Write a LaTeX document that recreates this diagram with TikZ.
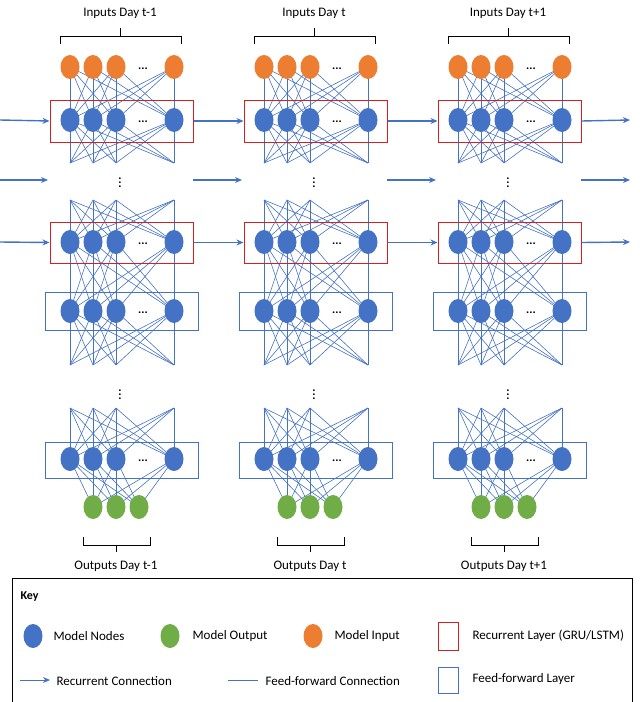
\documentclass[tikz,border=0pt]{standalone}
\usepackage{fontspec}
\setmainfont{Carlito}
\usepackage{tikz}
\usetikzlibrary{arrows.meta,backgrounds,shapes.geometric}

\definecolor{nodeblue}{HTML}{4472C4}
\definecolor{outgreen}{HTML}{70AD47}
\definecolor{inorange}{HTML}{ED7D31}
\definecolor{recred}{HTML}{D42020}

\tikzset{
  unit/.style={ellipse, fill=nodeblue, minimum width=19pt, minimum height=24pt, inner sep=0pt},
  innode/.style={unit, fill=inorange},
  outnode/.style={unit, fill=outgreen},
  ff/.style={nodeblue, line width=0.6pt},
  rec/.style={nodeblue, line width=1.4pt, -{Stealth[length=7pt, width=6pt]}},
  recbox/.style={draw=recred, line width=1pt},
  ffbox/.style={draw=nodeblue, line width=1pt},
  lab/.style={font=\fontsize{13}{15}\selectfont},
  dots/.style={inner sep=0pt, font=\bfseries\fontsize{12}{12}\selectfont}
}

\begin{document}
\begin{tikzpicture}[x=1pt, y=-1pt]
\useasboundingbox (0,0) rectangle (640,702);

\foreach \c/\day in {0/t-1,1/t,2/t+1} {
  \pgfmathsetmacro{\xo}{\c*194}
  \begin{scope}[xshift=\xo pt]
  % layers of nodes
  \foreach \i/\x in {1/70,2/93,3/116,4/174} {
    \node (in-\c-\i) [innode] at (\x,67) {};
    \node (ra-\c-\i) [unit] at (\x,120) {};
    \node (rb-\c-\i) [unit] at (\x,242) {};
    \node (fa-\c-\i) [unit] at (\x,311) {};
    \node (fb-\c-\i) [unit] at (\x,459) {};
    \coordinate (ga-\c-\i) at (\x,163);
    \coordinate (gb-\c-\i) at (\x,200);
    \coordinate (gc-\c-\i) at (\x,365);
    \coordinate (gd-\c-\i) at (\x,408);
  }
  \foreach \j/\x in {1/93,2/116,3/139}
    \node (out-\c-\j) [outnode] at (\x,507) {};
  \foreach \y in {67,120,242,311,459}
    \node [dots] at (143,\y+2) {...};
  \node (dotsa-\c) [dots] at (120,180) {$\vdots$};
  \node (dotsb-\c) [dots] at (120,392) {$\vdots$};

  % layer boxes
  \node (boxa-\c) [recbox, minimum width=143pt, minimum height=42pt] at (121.5,121) {};
  \node (boxb-\c) [recbox, minimum width=143pt, minimum height=41pt] at (121.5,242.5) {};
  \node (boxc-\c) [ffbox, minimum width=153pt, minimum height=38pt] at (121.5,311) {};
  \node (boxd-\c) [ffbox, minimum width=153pt, minimum height=36pt] at (121.5,460) {};

  % braces and labels
  \draw (60,44) -- (60,36) -- (120,36) -- (120,28) (120,36) -- (181,36) -- (181,44);
  \node (inlab-\c) [lab] at (120,13) {Inputs Day \day};
  \draw (83,537) -- (83,545) -- (116,545) -- (116,552) (116,545) -- (150,545) -- (150,537);
  \node (outlab-\c) [lab] at (116,566) {Outputs Day \day};

  % feed-forward connections
  \begin{scope}[on background layer]
  \foreach \i in {1,2,3,4} {
    \foreach \k in {1,2,3,4} {
      \draw [ff] (in-\c-\i.center) -- (ra-\c-\k.center);
      \draw [ff] (ra-\c-\i.center) -- (ga-\c-\k);
      \draw [ff] (gb-\c-\i) -- (rb-\c-\k.center);
      \draw [ff] (rb-\c-\i.center) -- (fa-\c-\k.center);
      \draw [ff] (fa-\c-\i.center) -- (gc-\c-\k);
      \draw [ff] (gd-\c-\i) -- (fb-\c-\k.center);
    }
    \foreach \j in {1,2,3}
      \draw [ff] (fb-\c-\i.center) -- (out-\c-\j.center);
  }
  \end{scope}
  \end{scope}
}

% recurrent connections
\coordinate (la) at (0,120);
\coordinate (lb) at (0,180);
\coordinate (lc) at (0,242);
\coordinate (ra) at (630,120);
\coordinate (rb) at (630,180);
\coordinate (rc) at (630,242);
\coordinate (ma) at (48,180);
\coordinate (mb) at (193,180);
\coordinate (mc) at (242,180);
\coordinate (md) at (387,180);
\coordinate (me) at (436,180);
\coordinate (mf) at (581,180);
\draw [rec] (la) -- (boxa-0.west);
\draw [rec] (boxa-0.east) -- (boxa-1.west);
\draw [rec] (boxa-1.east) -- (boxa-2.west);
\draw [rec] (boxa-2.east) -- (ra);
\draw [rec] (lc) -- (boxb-0.west);
\draw [rec] (boxb-0.east) -- (boxb-1.west);
\draw [rec] (boxb-1.east) -- (boxb-2.west);
\draw [rec] (boxb-2.east) -- (rc);
\draw [rec] (lb) -- (ma);
\draw [rec] (mb) -- (mc);
\draw [rec] (md) -- (me);
\draw [rec] (mf) -- (rb);

% key
\draw [line width=0.8pt] (12,578) rectangle (632,702);
\node (key) [anchor=west, font=\bfseries\fontsize{12}{14}\selectfont] at (17,597) {Key};
\node (knode) [unit] at (33,636) {};
\node (knodelab) [lab, anchor=west] at (50,636) {Model Nodes};
\node (kout) [outnode] at (170,636) {};
\node (koutlab) [lab, anchor=west] at (189,636) {Model Output};
\node (kin) [innode] at (313,636) {};
\node (kinlab) [lab, anchor=west] at (331,636) {Model Input};
\node (krec) [draw=recred, line width=0.6pt, minimum width=20pt, minimum height=28pt] at (448,636) {};
\node (kreclab) [lab, anchor=west] at (469,636) {Recurrent Layer (GRU/LSTM)};
\coordinate (kra) at (20,680);
\coordinate (krb) at (50,680);
\draw [rec, line width=1pt] (kra) -- (krb);
\node (kreclink) [lab, anchor=west] at (53,681) {Recurrent Connection};
\coordinate (kfa) at (228,680);
\coordinate (kfb) at (258,680);
\draw [ff] (kfa) -- (kfb);
\node (kfflink) [lab, anchor=west] at (262,681) {Feed-forward Connection};
\node (kff) [draw=nodeblue, line width=0.6pt, minimum width=20pt, minimum height=26pt] at (448,680) {};
\node (kfflab) [lab, anchor=west] at (469,679) {Feed-forward Layer};
\end{tikzpicture}
\end{document}
